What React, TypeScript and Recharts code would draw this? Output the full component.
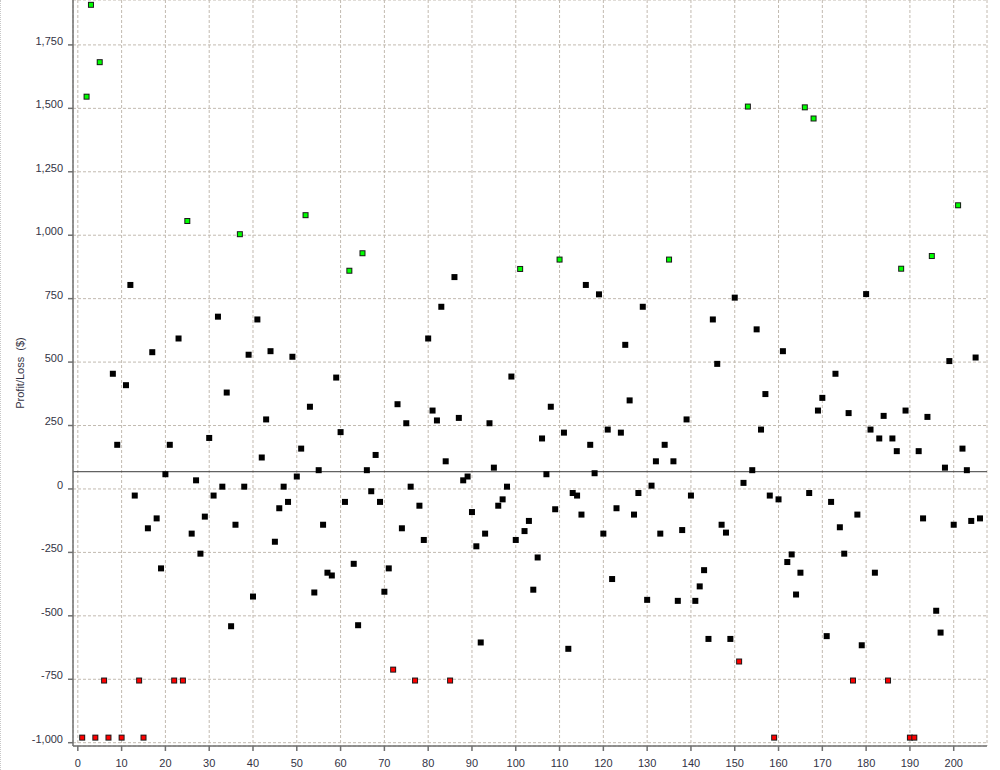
import { ScatterChart, Scatter, XAxis, YAxis, CartesianGrid, ReferenceLine } from "recharts";

// profit/loss per trade, trade 1..206
const profits: number[] = [
  -980, 1546, 1908, -980, 1682, -755, -980, 454, 174, -980,
  409, 804, -26, -755, -980, -155, 539, -116, -313, 58,
  174, -755, 593, -755, 1056, -176, 34, -255, -109, 201,
  -26, 679, 9, 380, -541, -141, 1004, 9, 529, -424,
  668, 124, 274, 543, -208, -76, 9, -51, 521, 49,
  159, 1079, 324, -408, 74, -141, -330, -341, 439, 224,
  -51, 860, -295, -537, 929, 74, -9, 134, -51, -405,
  -313, -712, 334, -155, 259, 9, -755, -66, -201, 593,
  309, 270, 718, 109, -755, 835, 280, 34, 49, -91,
  -226, -605, -176, 259, 84, -66, -41, 9, 443, -201,
  867, -166, -126, -397, -270, 199, 58, 324, -80, 904,
  222, -630, -16, -26, -101, 804, 174, 62, 767, -176,
  234, -355, -76, 222, 568, 349, -101, -16, 718, -437,
  13, 109, -176, 174, 904, 109, -441, -162, 274, -26,
  -441, -384, -320, -591, 668, 493, -141, -172, -591, 754,
  -680, 24, 1507, 74, 629, 234, 374, -26, -980, -41,
  543, -288, -258, -416, -330, 1504, -16, 1460, 309, 359,
  -580, -51, 454, -151, -255, 299, -755, -101, -616, 768,
  234, -330, 199, 288, -755, 199, 149, 868, 309, -980,
  -980, 149, -116, 284, 918, -480, -566, 84, 504, -141,
  1118, 159, 74, -126, 518, -116,
];

const xTicks: number[] = [0, 10, 20, 30, 40, 50, 60, 70, 80, 90, 100, 110, 120, 130, 140, 150, 160, 170, 180, 190, 200];
const yTicks: number[] = [-1000, -750, -500, -250, 0, 250, 500, 750, 1000, 1250, 1500, 1750];
const avgLine = 68;
const bigWin = 850;
const bigLoss = -650;

const trades = profits.map((p, i) => ({ trade: i + 1, profit: p }));
const normalTrades = trades.filter((t) => t.profit < bigWin && t.profit > bigLoss);
const winTrades = trades.filter((t) => t.profit >= bigWin);
const lossTrades = trades.filter((t) => t.profit <= bigLoss);

const font = "'Liberation Sans', Arial, sans-serif";

const blackSquare = (props: any) => (
  <rect x={props.cx - 3} y={props.cy - 3} width={6} height={6} fill="#000" />
);

const outlined = (fill: string) => (props: any) => (
  <g>
    <rect x={props.cx - 3} y={props.cy - 3} width={6} height={6} fill="#1a1a1a" />
    <rect x={props.cx - 2} y={props.cy - 2} width={4} height={4} fill={fill} />
  </g>
);

const fmt = (v: number) => v.toLocaleString("en-US");

const App = () => (
  <div style={{ position: "absolute", left: 0, top: 0, width: 1000, height: 770, background: "#fff" }}>
    <div style={{ position: "absolute", left: 0, top: 0, height: 770, borderLeft: "1px dotted #c8c8c8" }} />
    <ScatterChart width={1000} height={770} margin={{ top: 0, right: 13, bottom: 0, left: 0 }}>
      <CartesianGrid stroke="#c2bab0" strokeDasharray="3 2" />
      <XAxis
        dataKey="trade"
        type="number"
        domain={[-1.1, 207.6]}
        ticks={xTicks}
        allowDataOverflow
        height={24}
        stroke="#707070"
        strokeWidth={1.5}
        tickSize={5}
        tickMargin={8}
        tick={{ fill: "#333344", fontSize: 11, fontFamily: font }}
      />
      <YAxis
        dataKey="profit"
        type="number"
        domain={[-1013, 1927]}
        ticks={yTicks}
        allowDataOverflow
        width={73}
        stroke="#707070"
        strokeWidth={1.5}
        tickSize={5}
        tickMargin={5}
        tickFormatter={fmt}
        tick={{ fill: "#333344", fontSize: 11, fontFamily: font, dy: -4 }}
        label={{ value: "Profit/Loss\u00a0\u00a0($)", angle: -90, position: "center", dx: -16, fill: "#333344", fontSize: 11, fontFamily: font }}
      />
      <ReferenceLine y={avgLine} stroke="#3a3a3a" strokeWidth={1} />
      <Scatter data={normalTrades} shape={blackSquare} isAnimationActive={false} />
      <Scatter data={winTrades} shape={outlined("#00ff00")} isAnimationActive={false} />
      <Scatter data={lossTrades} shape={outlined("#ff0000")} isAnimationActive={false} />
    </ScatterChart>
  </div>
);

export default App;
